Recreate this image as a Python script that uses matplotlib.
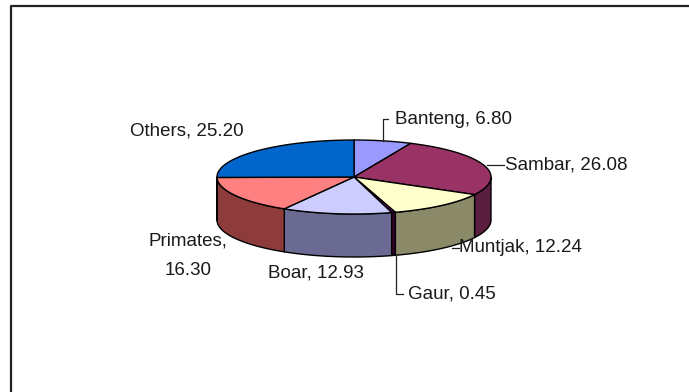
import numpy as np
import matplotlib.pyplot as plt
from matplotlib.patches import Polygon

# Species share of the kills (%)
species = ["Banteng", "Sambar", "Muntjak", "Gaur", "Boar", "Primates", "Others"]
share = [6.80, 26.08, 12.24, 0.45, 12.93, 16.30, 25.20]
top_colors = ["#9999FF", "#993366", "#FFFFCC", "#660066", "#CCCCFF", "#FF8080", "#0066CC"]
side_colors = ["#5C5C99", "#5A1E3E", "#8A8A68", "#3A0030", "#6A6A92", "#8E3B3B", "#003D7A"]

W, H = 689, 392
cx, cy = 354, 177        # centre of the top face (pixels)
rx, ry = 137, 37         # ellipse radii of the top face
depth = 43               # thickness of the disc

fig = plt.figure(figsize=(W / 100, H / 100), dpi=100)
ax = fig.add_axes([0, 0, 1, 1])
ax.set_xlim(0, W)
ax.set_ylim(H, 0)
ax.axis("off")

plt.rcParams["font.family"] = ["Liberation Sans", "DejaVu Sans"]


def rim(t, dy=0.0):
    t = np.radians(t)
    return cx + rx * np.cos(t), cy - ry * np.sin(t) + dy


vals = np.array(share)
frac = vals / vals.sum()
# clockwise from 12 o'clock
edges = 90 - 360 * np.concatenate([[0], np.cumsum(frac)])
mids = (edges[:-1] + edges[1:]) / 2

# outer walls (only the front half is visible)
for i in range(len(vals)):
    hi = min(edges[i], 0)
    lo = max(edges[i + 1], -180)
    if lo >= hi:
        continue
    t = np.linspace(hi, lo, 60)
    xt, yt = rim(t)
    xb, yb = rim(t[::-1], depth)
    pts = np.column_stack([np.r_[xt, xb], np.r_[yt, yb]])
    ax.add_patch(Polygon(pts, closed=True, facecolor=side_colors[i],
                         edgecolor="black", lw=1.0, joinstyle="round"))

# top faces
for i in range(len(vals)):
    t = np.linspace(edges[i], edges[i + 1], 80)
    xt, yt = rim(t)
    pts = np.column_stack([np.r_[cx, xt], np.r_[cy, yt]])
    ax.add_patch(Polygon(pts, closed=True, facecolor=top_colors[i],
                         edgecolor="black", lw=1.0, joinstyle="round"))

# data labels with leader lines
lbl = [f"{n}, {v:.2f}" for n, v in zip(species, share)]
fs = 13.5
txt = dict(fontsize=fs, color="#1a1a1a", va="center")

# Banteng
x0, y0 = rim(mids[0])
ax.plot([x0, x0, x0 + 5], [y0, 119, 119], color="#222", lw=0.9)
ax.text(395, 119, lbl[0], ha="left", **txt)
# Sambar
x0, y0 = rim(mids[1])
ax.plot([x0 + 3, 504], [y0, y0], color="#222", lw=0.9)
ax.text(505, y0, lbl[1], ha="left", **txt)
# Muntjak
ax.plot([452, 459], [248, 248], color="#222", lw=0.9)
ax.text(459, 248, lbl[2], ha="left", **txt)
# Gaur
x0, y0 = rim(mids[3], depth)
ax.plot([x0 + 2, x0 + 2, x0 + 9], [y0, 294, 294], color="#222", lw=0.9)
ax.text(408, 294, lbl[3], ha="left", **txt)
# Boar
ax.text(268, 273, lbl[4], ha="left", **txt)
# Primates (wrapped)
ax.text(188, 256, f"{species[5]},\n{share[5]:.2f}", ha="center",
        multialignment="center", linespacing=1.95, **txt)
# Others
ax.text(130, 131, lbl[6], ha="left", **txt)

# chart area border (runs off the right and bottom edges)
ax.plot([11, 11, W + 5], [H + 5, 6, 6], color="#222", lw=1.6, clip_on=False)

fig.savefig("out.png", dpi=100)
